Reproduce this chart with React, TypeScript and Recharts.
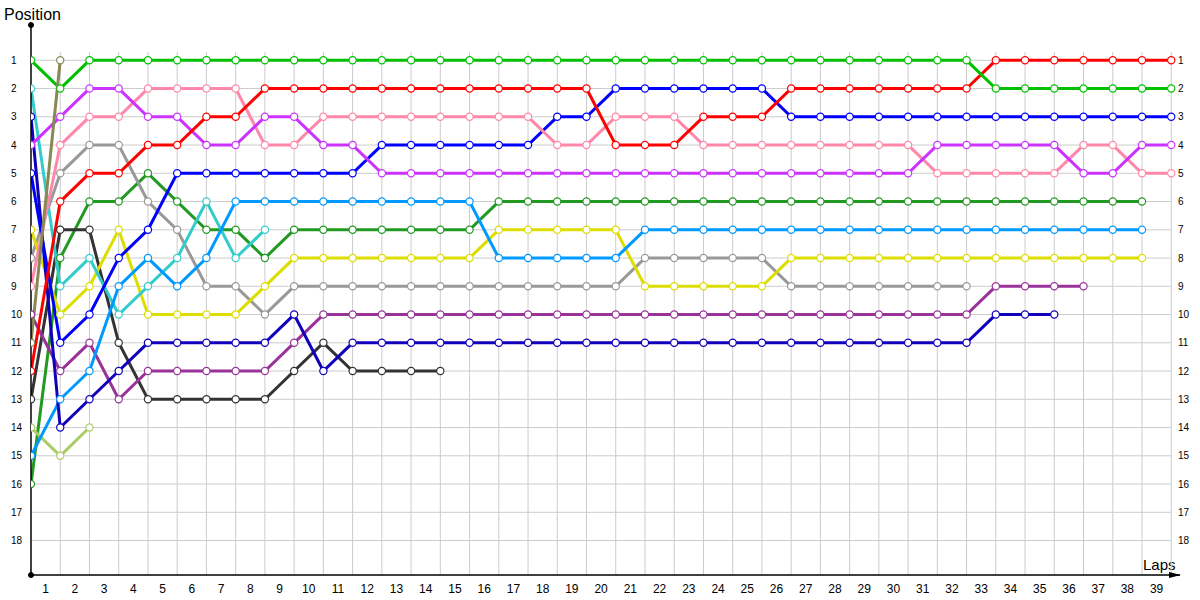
import { LineChart, Line, XAxis, YAxis, ReferenceLine, ReferenceDot } from "recharts";

// positions per lap (index = lap, 0 = start)
const green = [1, 2, 1, 1, 1, 1, 1, 1, 1, 1, 1, 1, 1, 1, 1, 1, 1, 1, 1, 1, 1, 1, 1, 1, 1, 1, 1, 1, 1, 1, 1, 1, 1, 2, 2, 2, 2, 2, 2, 2];
const red = [12, 6, 5, 5, 4, 4, 3, 3, 2, 2, 2, 2, 2, 2, 2, 2, 2, 2, 2, 2, 4, 4, 4, 3, 3, 3, 2, 2, 2, 2, 2, 2, 2, 1, 1, 1, 1, 1, 1, 1];
const magenta = [4, 3, 2, 2, 3, 3, 4, 4, 3, 3, 4, 4, 5, 5, 5, 5, 5, 5, 5, 5, 5, 5, 5, 5, 5, 5, 5, 5, 5, 5, 5, 4, 4, 4, 4, 4, 5, 5, 4, 4];
const pink = [9, 4, 3, 3, 2, 2, 2, 2, 4, 4, 3, 3, 3, 3, 3, 3, 3, 3, 4, 4, 3, 3, 3, 4, 4, 4, 4, 4, 4, 4, 4, 5, 5, 5, 5, 5, 4, 4, 5, 5];
const blue = [5, 11, 10, 8, 7, 5, 5, 5, 5, 5, 5, 5, 4, 4, 4, 4, 4, 4, 3, 3, 2, 2, 2, 2, 2, 2, 3, 3, 3, 3, 3, 3, 3, 3, 3, 3, 3, 3, 3, 3];
const sky = [15, 13, 12, 9, 8, 9, 8, 6, 6, 6, 6, 6, 6, 6, 6, 6, 8, 8, 8, 8, 8, 7, 7, 7, 7, 7, 7, 7, 7, 7, 7, 7, 7, 7, 7, 7, 7, 7, 7];
const darkGreen = [16, 8, 6, 6, 5, 6, 7, 7, 8, 7, 7, 7, 7, 7, 7, 7, 6, 6, 6, 6, 6, 6, 6, 6, 6, 6, 6, 6, 6, 6, 6, 6, 6, 6, 6, 6, 6, 6, 6];
const yellow = [7, 10, 9, 7, 10, 10, 10, 10, 9, 8, 8, 8, 8, 8, 8, 8, 7, 7, 7, 7, 7, 9, 9, 9, 9, 9, 8, 8, 8, 8, 8, 8, 8, 8, 8, 8, 8, 8, 8];
const gray = [8, 5, 4, 4, 6, 7, 9, 9, 10, 9, 9, 9, 9, 9, 9, 9, 9, 9, 9, 9, 9, 8, 8, 8, 8, 8, 9, 9, 9, 9, 9, 9, 9];
const cyan = [2, 9, 8, 10, 9, 8, 6, 8, 7];
const navy = [3, 14, 13, 12, 11, 11, 11, 11, 11, 10, 12, 11, 11, 11, 11, 11, 11, 11, 11, 11, 11, 11, 11, 11, 11, 11, 11, 11, 11, 11, 11, 11, 11, 10, 10, 10];
const plum = [10, 12, 11, 13, 12, 12, 12, 12, 12, 11, 10, 10, 10, 10, 10, 10, 10, 10, 10, 10, 10, 10, 10, 10, 10, 10, 10, 10, 10, 10, 10, 10, 10, 9, 9, 9, 9];
const darkGray = [13, 7, 7, 11, 13, 13, 13, 13, 13, 12, 11, 12, 12, 12, 12];
const lightGreen = [14, 15, 14];
const olive = [11, 1];

const laps = Array.from({ length: 40 }, (_, i) => i);
const lapLabels = laps.slice(1);
const positions = Array.from({ length: 18 }, (_, i) => i + 1);

// drawing order: later entries end up on top
const drivers = [
  { key: "darkGreen", color: "#229922", values: darkGreen },
  { key: "lightGreen", color: "#aacc66", values: lightGreen },
  { key: "darkGray", color: "#333333", values: darkGray },
  { key: "gray", color: "#999999", values: gray },
  { key: "plum", color: "#993399", values: plum },
  { key: "yellow", color: "#dddd00", values: yellow },
  { key: "cyan", color: "#33cccc", values: cyan },
  { key: "sky", color: "#0099ff", values: sky },
  { key: "navy", color: "#1100bb", values: navy },
  { key: "blue", color: "#0000ff", values: blue },
  { key: "pink", color: "#ff88aa", values: pink },
  { key: "magenta", color: "#cc33ff", values: magenta },
  { key: "red", color: "#ff0000", values: red },
  { key: "green", color: "#00c000", values: green },
  { key: "olive", color: "#888855", values: olive },
];

const data = laps.map((lap) => {
  const row: Record<string, number | undefined> = { lap };
  drivers.forEach((d) => {
    row[d.key] = d.values[lap];
  });
  return row;
});

const Y_TOP = -0.25;
const Y_BOTTOM = 19.22;
const X_MAX = 39.3;
const FONT = "'Liberation Sans', Arial, sans-serif";

const YTick = ({ y, payload }: any) => (
  <g>
    <text x={11} y={y} dy={3.5} fontSize={10} fontFamily={FONT} fill="#000">
      {payload.value}
    </text>
    <text x={1178} y={y} dy={3.5} fontSize={10} fontFamily={FONT} fill="#000">
      {payload.value}
    </text>
  </g>
);

const XTick = ({ x, payload }: any) => (
  <text x={x} y={593} textAnchor="middle" fontSize={12} fontFamily={FONT} fill="#000">
    {payload.value + 0.5}
  </text>
);

const Arrow = ({ cx, cy }: any) => (
  <polygon points={`${cx - 11},${cy - 3} ${cx + 1},${cy} ${cx - 11},${cy + 3}`} fill="#000" />
);

export default function App() {
  return (
    <div style={{ position: "absolute", left: 0, top: 0, width: 1200, height: 600, background: "#fff" }}>
      <div style={{ position: "absolute", left: 4, top: 5, fontSize: 16, lineHeight: "20px", fontFamily: FONT, color: "#000" }}>
        Position
      </div>
      <div style={{ position: "absolute", left: 1143, top: 555, fontSize: 15, lineHeight: "20px", fontFamily: FONT, color: "#000" }}>
        Laps
      </div>
      <LineChart width={1200} height={600} data={data} margin={{ top: 25, right: 20, bottom: 0, left: 0 }}>
        {lapLabels.map((l) => (
          <ReferenceLine
            key={`v${l}`}
            segment={[{ x: l, y: 0.7 }, { x: l, y: Y_BOTTOM }]}
            stroke="#cccccc"
            strokeWidth={1}
            ifOverflow="visible"
          />
        ))}
        {positions.map((p) => (
          <ReferenceLine
            key={`h${p}`}
            segment={[{ x: 0, y: p }, { x: 39, y: p }]}
            stroke="#cccccc"
            strokeWidth={1}
            ifOverflow="visible"
          />
        ))}
        <XAxis
          dataKey="lap"
          type="number"
          domain={[0, X_MAX]}
          allowDataOverflow
          ticks={lapLabels.map((l) => l - 0.5)}
          tick={<XTick />}
          tickLine={false}
          axisLine={{ stroke: "#000", strokeWidth: 1.5 }}
          height={25}
          interval={0}
        />
        <YAxis
          type="number"
          reversed
          domain={[Y_TOP, Y_BOTTOM]}
          allowDataOverflow
          ticks={positions}
          tick={<YTick />}
          tickLine={false}
          axisLine={{ stroke: "#000", strokeWidth: 1.5 }}
          width={31}
          interval={0}
        />
        {drivers.map((d) => (
          <Line
            key={d.key}
            dataKey={d.key}
            type="linear"
            stroke={d.color}
            strokeWidth={3}
            dot={{ r: 3.6, fill: "#fff", stroke: d.color, strokeWidth: 1.2 }}
            activeDot={false}
            connectNulls={false}
            isAnimationActive={false}
          />
        ))}
        <ReferenceDot x={0} y={Y_TOP} r={2.5} fill="#000" stroke="#000" ifOverflow="visible" />
        <ReferenceDot x={0} y={Y_BOTTOM} r={2.5} fill="#000" stroke="#000" ifOverflow="visible" />
        <ReferenceDot x={X_MAX} y={Y_BOTTOM} shape={<Arrow />} ifOverflow="visible" />
      </LineChart>
    </div>
  );
}
